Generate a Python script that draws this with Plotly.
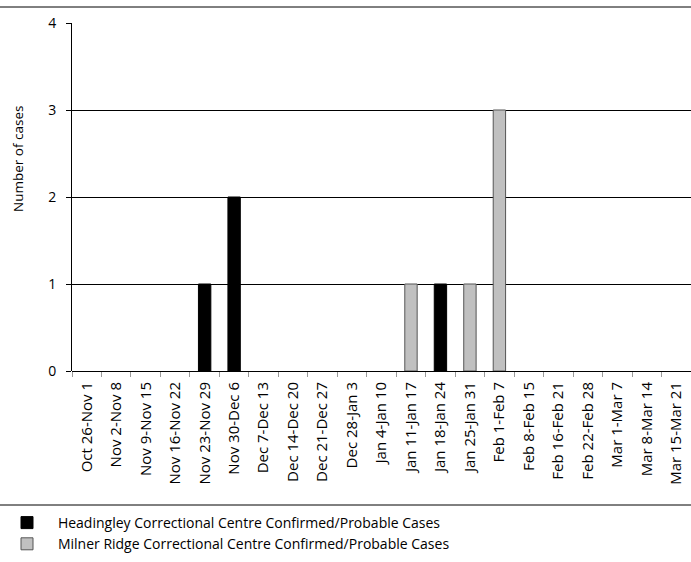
import plotly.graph_objects as go

weeks = ["Oct 26-Nov 1", "Nov 2-Nov 8", "Nov 9-Nov 15", "Nov 16-Nov 22", "Nov 23-Nov 29",
         "Nov 30-Dec 6", "Dec 7-Dec 13", "Dec 14-Dec 20", "Dec 21-Dec 27", "Dec 28-Jan 3",
         "Jan 4-Jan 10", "Jan 11-Jan 17", "Jan 18-Jan 24", "Jan 25-Jan 31", "Feb 1-Feb 7",
         "Feb 8-Feb 15", "Feb 16-Feb 21", "Feb 22-Feb 28", "Mar 1-Mar 7", "Mar 8-Mar 14",
         "Mar 15-Mar 21"]
headingley = [0, 0, 0, 0, 1, 2, 0, 0, 0, 0, 0, 0, 1, 0, 0, 0, 0, 0, 0, 0, 0]
milner = [0, 0, 0, 0, 0, 0, 0, 0, 0, 0, 0, 1, 0, 1, 3, 0, 0, 0, 0, 0, 0]
y_ticks = [0, 1, 2, 3, 4]

FONT = "Open Sans"
W, H = 691, 562
ML, MR, MT, MB = 72, 0, 23, 191
pw = W - ML - MR
ph = H - MT - MB


def py(pix):
    """pixel row (from top of figure) -> paper y"""
    return (H - MB - pix) / ph


def px(pix):
    return (pix - ML) / pw


def nz(vals):
    return [v if v else None for v in vals]


fig = go.Figure()
fig.add_trace(go.Bar(
    x=weeks, y=nz(headingley), name="   Headingley Correctional Centre Confirmed/Probable Cases",
    marker=dict(color="#000000", line=dict(color="#000000", width=1)), width=0.42))
fig.add_trace(go.Bar(
    x=weeks, y=nz(milner), name="   Milner Ridge Correctional Centre Confirmed/Probable Cases",
    marker=dict(color="#C0C0C0", line=dict(color="#555555", width=1)), width=0.42))

fig.update_layout(
    width=W, height=H, barmode="overlay",
    margin=dict(l=ML, r=MR, t=MT, b=MB, autoexpand=False),
    paper_bgcolor="white", plot_bgcolor="white",
    font=dict(family=FONT, color="#000000"),
    xaxis=dict(type="category", tickangle=-90, tickfont=dict(size=15),
               showgrid=False, showline=False, ticks="outside", tickson="boundaries",
               ticklen=5, tickcolor="#999999", tickwidth=1, range=[-0.5, 20.5],
               ticklabelstandoff=7, automargin=False),
    yaxis=dict(range=[0, 4], tickvals=y_ticks, showgrid=True, gridcolor="#000000",
               gridwidth=1, zeroline=True, zerolinecolor="#000000", zerolinewidth=1,
               showline=True, linecolor="#000000", linewidth=1, automargin=False,
               ticks="outside", ticklen=5, tickcolor="#000000", tickfont=dict(size=14),
               ticklabelstandoff=7),
    legend=dict(x=px(7), y=py(507), xanchor="left", yanchor="top",
                font=dict(size=14), tracegroupgap=0,
                bgcolor="rgba(0,0,0,0)"),
    showlegend=True,
)
fig.add_annotation(text="Number of cases", xref="paper", yref="paper",
                   x=px(18), y=py(159), textangle=-90, showarrow=False,
                   font=dict(size=13.5), xanchor="center", yanchor="middle")
# decorative top and bottom rules spanning full width
fig.add_shape(type="line", xref="paper", yref="paper",
              x0=px(0), x1=1, y0=py(7), y1=py(7),
              line=dict(color="#000000", width=1))
fig.add_shape(type="line", xref="paper", yref="paper",
              x0=px(0), x1=1, y0=py(505), y1=py(505),
              line=dict(color="#000000", width=1))

fig.write_html("out.html", config={"displayModeBar": False},
               post_script="document.body.style.margin='0';document.body.style.overflow='hidden';")
